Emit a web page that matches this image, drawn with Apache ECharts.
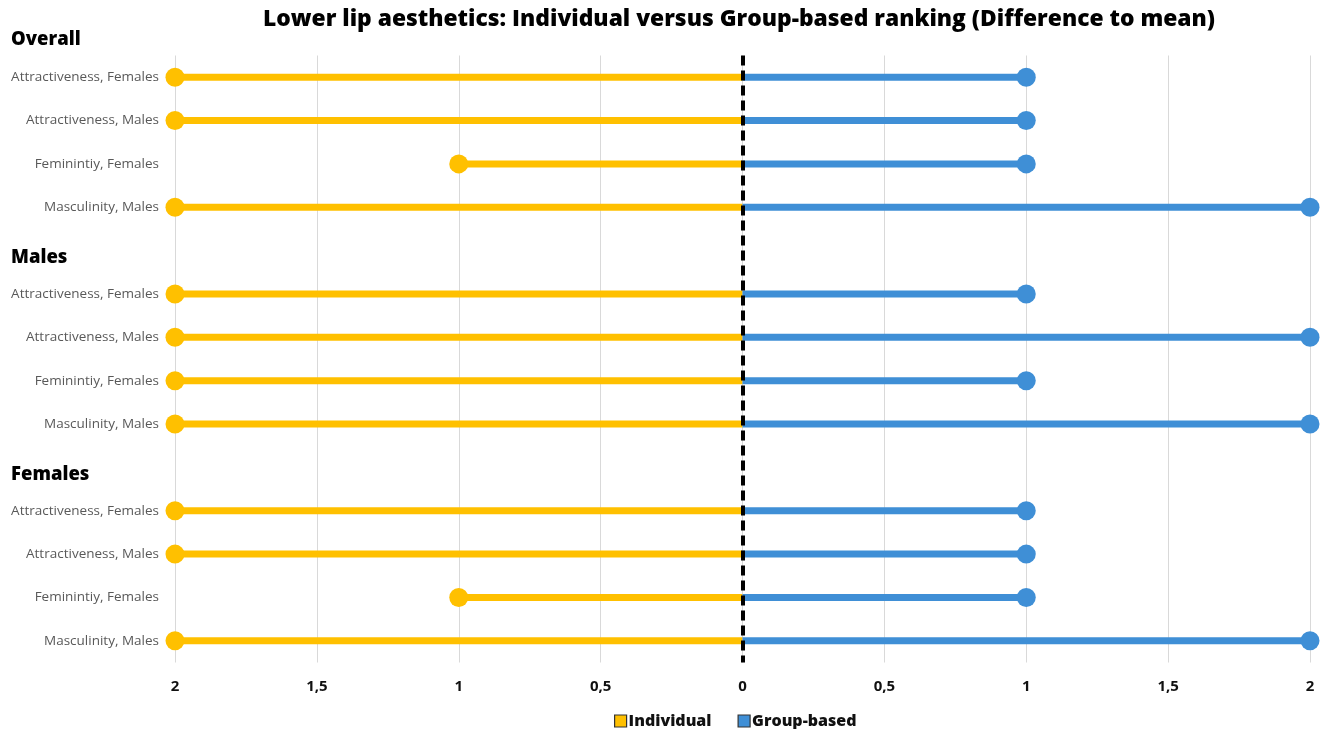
<!DOCTYPE html>
<html>
<head>
<meta charset="utf-8">
<script src="https://cdn.jsdelivr.net/npm/echarts@6/dist/echarts.min.js"></script>
<style>
html,body{margin:0;padding:0;background:#fff;}
#chart{width:1325px;height:729px;}
</style>
</head>
<body>
<div id="chart"></div>
<script>
// Categories (top to bottom). Header rows for "Males" and "Females" have no data.
const categories = [
  'Attractiveness, Females', 'Attractiveness, Males', 'Feminintiy, Females', 'Masculinity, Males',
  'Males',
  'Attractiveness, Females', 'Attractiveness, Males', 'Feminintiy, Females', 'Masculinity, Males',
  'Females',
  'Attractiveness, Females', 'Attractiveness, Males', 'Feminintiy, Females', 'Masculinity, Males'
];
const headerRows = [4, 9];
// Individual ranking: difference to mean (drawn to the left)
const individual = [-2, -2, -1, -2, null, -2, -2, -2, -2, null, -2, -2, -1, -2];
// Group-based ranking: difference to mean (drawn to the right)
const groupBased = [1, 1, 1, 2, null, 1, 2, 1, 2, null, 1, 1, 1, 2];
const xTicks = [-2, -1.5, -1, -0.5, 0, 0.5, 1, 1.5, 2];

const YELLOW = '#FFC000';
const BLUE = '#3F8FD6';
const FONT = '"Open Sans", Lato, sans-serif';

const chart = echarts.init(document.getElementById('chart'), null, {renderer: 'canvas'});

chart.setOption({
  animation: false,
  backgroundColor: '#fff',
  graphic: [
    {
      type: 'text', x: 739, y: 20,
      style: {
        text: 'Lower lip aesthetics: Individual versus Group-based ranking (Difference to mean)',
        textAlign: 'center', textVerticalAlign: 'middle',
        fontFamily: FONT, fontWeight: 800, fontSize: 22.8, fill: '#000'
      }
    },
    {
      type: 'text', x: 11, y: 40,
      style: {
        text: 'Overall', textAlign: 'left', textVerticalAlign: 'middle',
        fontFamily: FONT, fontWeight: 800, fontSize: 18.5, fill: '#000'
      }
    }
  ],
  legend: {
    top: 708,
    left: 609,
    icon: 'rect',
    itemWidth: 12,
    itemHeight: 12,
    itemGap: 26,
    itemStyle: {borderColor: '#333', borderWidth: 1.2},
    textStyle: {fontFamily: FONT, fontWeight: 800, fontSize: 16, color: '#111', padding: [0, 0, 0, -3]},
    data: ['Individual', 'Group-based']
  },
  grid: {left: 175, right: 15, top: 55.5, bottom: 66.5, containLabel: false},
  xAxis: {
    type: 'value',
    min: -2, max: 2, interval: 0.5,
    axisLine: {show: false},
    axisTick: {show: false},
    splitLine: {show: true, lineStyle: {color: '#d9d9d9', width: 1}},
    axisLabel: {
      margin: 17,
      fontFamily: FONT, fontWeight: 'bold', fontSize: 15, color: '#111',
      formatter: v => String(Math.abs(v)).replace('.', ',')
    }
  },
  yAxis: {
    type: 'category',
    data: categories,
    inverse: true,
    axisLine: {show: false},
    axisTick: {show: false},
    splitLine: {show: false},
    axisLabel: {
      margin: 16,
      fontFamily: FONT, fontSize: 13.5, color: '#595959',
      formatter: (v, i) => headerRows.includes(i) ? '{h|' + v + '}' : v,
      rich: {
        h: {
          fontFamily: FONT, fontWeight: 800, fontSize: 18.5, color: '#000',
          width: 148, align: 'left', padding: [14, 0, 0, 0]
        }
      }
    }
  },
  series: [
    {
      name: 'Individual', type: 'bar', data: individual,
      barWidth: 7, barGap: '-100%', itemStyle: {color: YELLOW}, z: 2
    },
    {
      name: 'Group-based', type: 'bar', data: groupBased,
      barWidth: 7, barGap: '-100%', itemStyle: {color: BLUE}, z: 2
    },
    {
      name: 'Individual', type: 'scatter', data: individual,
      symbol: 'circle', symbolSize: 19, itemStyle: {color: YELLOW, opacity: 1}, z: 3
    },
    {
      name: 'Group-based', type: 'scatter', data: groupBased,
      symbol: 'circle', symbolSize: 19, itemStyle: {color: BLUE, opacity: 1}, z: 3,
      markLine: {
        silent: true, symbol: 'none', z: 5,
        label: {show: false},
        lineStyle: {color: '#000', width: 4, type: [10, 5]},
        data: [{xAxis: 0}]
      }
    }
  ]
});
</script>
</body>
</html>
